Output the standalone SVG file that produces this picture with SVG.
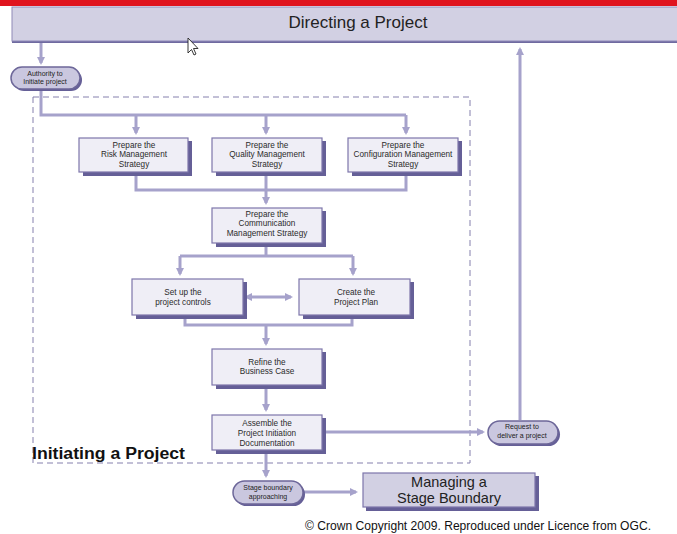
<svg xmlns="http://www.w3.org/2000/svg" width="677" height="534" viewBox="0 0 677 534">
<defs>
<style>
.box{fill:#efeef6;stroke:#7d76ab;stroke-width:1.2}
.sh{fill:#655f97}
.pill{fill:#cac7df;stroke:#6d6799;stroke-width:1.5}
.c{fill:none;stroke:#a6a2cb;stroke-width:3}
.t{font-family:"Liberation Sans",Arial,sans-serif;font-size:8.2px;fill:#2b2b2b;text-anchor:middle}
.pt{font-family:"Liberation Sans",Arial,sans-serif;font-size:7px;fill:#222;text-anchor:middle}
.big{font-family:"Liberation Sans",Arial,sans-serif;fill:#222;text-anchor:middle}
</style>
<marker id="ah" viewBox="0 0 8 8" refX="6" refY="4" markerWidth="8" markerHeight="8" markerUnits="userSpaceOnUse" orient="auto">
<path d="M0,0 L8,4 L0,8 Z" fill="#a6a2cb"/>
</marker>
<marker id="ahs" viewBox="0 0 8 8" refX="2" refY="4" markerWidth="8" markerHeight="8" markerUnits="userSpaceOnUse" orient="auto-start-reverse">
<path d="M0,0 L8,4 L0,8 Z" fill="#a6a2cb"/>
</marker>
</defs>
<rect x="0" y="0" width="677" height="534" fill="#ffffff"/>
<rect x="0" y="0" width="677" height="6" fill="#e0141e"/>

<g id="directing">
<rect x="12" y="8" width="670" height="35" fill="#6f6aa0"/>
<rect x="12" y="7" width="670" height="34" fill="#d2d0e3" stroke="#8f89b8" stroke-width="1"/>
<text class="big" x="358" y="28" font-size="17">Directing a Project</text>
</g>

<g id="cursor">
<path d="M188,38 L188,53 L191.5,49.5 L194,55 L196,54 L193.5,48.5 L198,48.5 Z" fill="#ffffff" stroke="#222" stroke-width="0.9"/>
</g>

<g id="initiating-boundary">
<rect x="33" y="97" width="437" height="366" fill="none" stroke="#8580ad" stroke-width="1" stroke-dasharray="6,4"/>
<text x="32" y="459" font-family="Liberation Sans,Arial,sans-serif" font-size="16" font-weight="bold" fill="#111" textLength="153" lengthAdjust="spacingAndGlyphs">Initiating a Project</text>
</g>

<g id="connectors">
<path class="c" d="M41,43 V63" marker-end="url(#ah)"/>
<path class="c" d="M41,89 V115 H406"/>
<path class="c" d="M136,115 V133" marker-end="url(#ah)"/>
<path class="c" d="M266,115 V133" marker-end="url(#ah)"/>
<path class="c" d="M406,115 V133" marker-end="url(#ah)"/>
<path class="c" d="M136,172 V190 H406 V172"/>
<path class="c" d="M266,172 V203" marker-end="url(#ah)"/>
<path class="c" d="M266,243 V256"/>
<path class="c" d="M180,256 H353"/>
<path class="c" d="M180,256 V274" marker-end="url(#ah)"/>
<path class="c" d="M353,256 V274" marker-end="url(#ah)"/>
<path class="c" d="M250,297 H291" marker-start="url(#ahs)" marker-end="url(#ah)"/>
<path class="c" d="M185,315 V325 H352 V315"/>
<path class="c" d="M266,325 V344" marker-end="url(#ah)"/>
<path class="c" d="M266,385 V410" marker-end="url(#ah)"/>
<path class="c" d="M266,450 V476" marker-end="url(#ah)"/>
<path class="c" d="M323,432 H483" marker-end="url(#ah)"/>
<path class="c" d="M520,420 V49" marker-end="url(#ah)"/>
<path class="c" d="M304,492 H356" marker-end="url(#ah)"/>
</g>

<g id="authority">
<rect x="13" y="69" width="69" height="22" rx="11" class="sh"/>
<rect x="11" y="67" width="69" height="22" rx="11" class="pill"/>
<text class="pt" x="45" y="76">Authority to</text>
<text class="pt" x="45" y="84">Initiate project</text>
</g>

<g id="risk">
<rect x="83" y="141" width="109" height="35" class="sh"/>
<rect x="79" y="138" width="109" height="34" class="box"/>
<text class="t" x="134" y="148">Prepare the</text>
<text class="t" x="134" y="157">Risk Management</text>
<text class="t" x="134" y="167">Strategy</text>
</g>

<g id="quality">
<rect x="216" y="141" width="110" height="35" class="sh"/>
<rect x="212" y="138" width="110" height="34" class="box"/>
<text class="t" x="267" y="148">Prepare the</text>
<text class="t" x="267" y="157">Quality Management</text>
<text class="t" x="267" y="167">Strategy</text>
</g>

<g id="configuration">
<rect x="352" y="141" width="110" height="35" class="sh"/>
<rect x="348" y="138" width="110" height="34" class="box"/>
<text class="t" x="403" y="148">Prepare the</text>
<text class="t" x="403" y="157">Configuration Management</text>
<text class="t" x="403" y="167">Strategy</text>
</g>

<g id="communication">
<rect x="216" y="211" width="110" height="36" class="sh"/>
<rect x="212" y="208" width="110" height="35" class="box"/>
<text class="t" x="267" y="217">Prepare the</text>
<text class="t" x="267" y="226">Communication</text>
<text class="t" x="267" y="236">Management  Strategy</text>
</g>

<g id="setup">
<rect x="136" y="282" width="111" height="37" class="sh"/>
<rect x="132" y="279" width="111" height="36" class="box"/>
<text class="t" x="183" y="295">Set up  the</text>
<text class="t" x="183" y="305">project controls</text>
</g>

<g id="plan">
<rect x="303" y="282" width="111" height="37" class="sh"/>
<rect x="299" y="279" width="111" height="36" class="box"/>
<text class="t" x="356" y="295">Create the</text>
<text class="t" x="356" y="305">Project Plan</text>
</g>

<g id="refine">
<rect x="216" y="352" width="110" height="37" class="sh"/>
<rect x="212" y="349" width="110" height="36" class="box"/>
<text class="t" x="267" y="365">Refine the</text>
<text class="t" x="267" y="374">Business Case</text>
</g>

<g id="assemble">
<rect x="216" y="418" width="110" height="36" class="sh"/>
<rect x="212" y="415" width="110" height="35" class="box"/>
<text class="t" x="267" y="426">Assemble the</text>
<text class="t" x="267" y="436">Project Initiation</text>
<text class="t" x="267" y="446">Documentation</text>
</g>

<g id="request">
<rect x="490" y="423" width="70" height="23" rx="11.5" class="sh"/>
<rect x="488" y="421" width="70" height="23" rx="11.5" class="pill"/>
<text class="pt" x="522" y="429">Request to</text>
<text class="pt" x="522" y="438">deliver a project</text>
</g>

<g id="stage-approaching">
<rect x="235" y="483" width="70" height="23" rx="11.5" class="sh"/>
<rect x="233" y="481" width="70" height="23" rx="11.5" class="pill"/>
<text class="pt" x="268" y="490">Stage boundary</text>
<text class="pt" x="268" y="499">approaching</text>
</g>

<g id="managing">
<rect x="366" y="476" width="173" height="35" class="sh"/>
<rect x="363" y="473" width="172" height="34" fill="#d2d0e3" stroke="#7d76ab" stroke-width="1.2"/>
<text class="big" x="449" y="487" font-size="14.5">Managing a</text>
<text class="big" x="449" y="503" font-size="14.5">Stage Boundary</text>
</g>

<text x="305" y="530" font-family="Liberation Sans,Arial,sans-serif" font-size="12.5" fill="#111" textLength="346" lengthAdjust="spacingAndGlyphs">© Crown Copyright 2009. Reproduced under Licence from OGC.</text>
</svg>
